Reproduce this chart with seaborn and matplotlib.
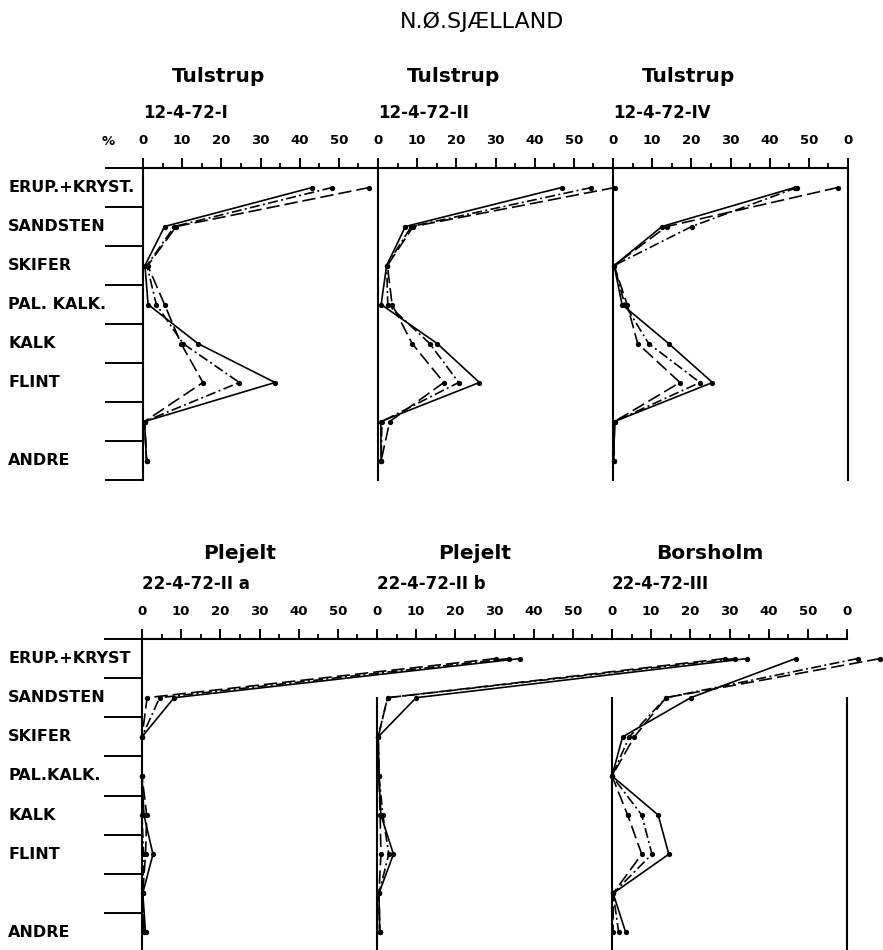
import numpy as np
import matplotlib
matplotlib.use("Agg")
import matplotlib.pyplot as plt
import matplotlib.transforms as mtransforms
import seaborn as sns

sns.set_style("white")
plt.rcParams['font.family'] = ['DejaVu Sans']
plt.rcParams['font.weight'] = 'bold'
plt.rcParams['text.color'] = 'black'
plt.rcParams['xtick.color'] = 'black'
plt.rcParams['ytick.color'] = 'black'

# --- data (percent per rock type) ---
categories_top = ["ERUP.+KRYST.", "SANDSTEN", "SKIFER", "PAL. KALK.", "KALK", "FLINT", "", "ANDRE"]
categories_bottom = ["ERUP.+KRYST", "SANDSTEN", "SKIFER", "PAL.KALK.", "KALK", "FLINT", "", "ANDRE"]

main_title = "N.Ø.SJÆLLAND"
titles_top = ["Tulstrup", "Tulstrup", "Tulstrup"]
samples_top = ["12-4-72-I", "12-4-72-II", "12-4-72-IV"]
titles_bottom = ["Plejelt", "Plejelt", "Borsholm"]
samples_bottom = ["22-4-72-II a", "22-4-72-II b", "22-4-72-III"]

# series order in each panel: solid, dash-dot, dashed
t1_solid = [43.2, 5.5, 0.5, 1.3, 14.0, 33.7, 0.4, 0.9]
t1_dashdot = [48.3, 8.0, 1.0, 3.4, 10.2, 24.6, 0.4, 0.9]
t1_dashed = [57.8, 8.5, 1.2, 5.5, 9.7, 15.3, 0.4, 0.9]

t2_solid = [46.9, 7.0, 2.2, 0.8, 15.1, 25.9, 0.7, 0.8]
t2_dashdot = [54.5, 8.5, 2.2, 2.5, 13.2, 20.6, 1.0, 0.8]
t2_dashed = [60.5, 9.0, 2.4, 3.6, 8.7, 16.8, 3.0, 0.8]

t3_solid = [46.4, 12.5, 0.3, 2.3, 14.2, 25.4, 0.4, 0.2]
t3_dashdot = [47.0, 20.1, 0.3, 3.0, 9.1, 22.2, 0.4, 0.2]
t3_dashed = [57.4, 13.7, 0.3, 3.6, 6.3, 17.1, 0.4, 0.2]

b1_solid = [96.6, 8.2, 0.0, 0.0, 0.5, 2.8, 0.2, 0.9]
b1_dashdot = [93.6, 4.5, 0.0, 0.0, 0.0, 0.4, 0.2, 0.5]
b1_dashed = [90.3, 1.3, 0.0, 0.0, 1.2, 0.9, 0.2, 0.5]

b2_solid = [94.5, 10.0, 0.3, 0.5, 1.0, 4.2, 0.5, 0.7]
b2_dashdot = [91.4, 2.7, 0.3, 0.5, 1.5, 3.0, 0.5, 0.7]
b2_dashed = [88.8, 2.7, 0.3, 0.5, 0.8, 1.0, 0.5, 0.7]

b3_solid = [46.9, 20.1, 2.7, 0.0, 11.8, 14.5, 0.3, 3.5]
b3_dashdot = [62.7, 13.8, 4.4, 0.0, 7.6, 10.2, 0.3, 1.7]
b3_dashed = [68.5, 13.8, 5.7, 0.0, 4.0, 7.6, 0.3, 0.3]

top_panels = [[t1_solid, t1_dashdot, t1_dashed],
              [t2_solid, t2_dashdot, t2_dashed],
              [t3_solid, t3_dashdot, t3_dashed]]
bottom_panels = [[b1_solid, b1_dashdot, b1_dashed],
                 [b2_solid, b2_dashdot, b2_dashed],
                 [b3_solid, b3_dashdot, b3_dashed]]

line_styles = ['-', (0, (6, 2, 1.2, 2)), (0, (8, 3))]

# --- figure layout in pixels ---
W, H = 883, 950
fig = plt.figure(figsize=(W / 100, H / 100), dpi=100)
fig.patch.set_facecolor('white')


def px_axes(left, top, w, h):
    return fig.add_axes([left / W, 1 - (top + h) / H, w / W, h / H])


def draw_row(lefts, top, height, categories, panels, titles, samples,
             title_dx, title_dy, cut_vertical):
    rows = np.arange(len(categories)) + 0.5
    axes = []
    for k, (left, series, title, sample) in enumerate(zip(lefts, panels, titles, samples)):
        ax = px_axes(left, top, 235, height)
        ax.set_facecolor('none')
        for vals, ls in zip(series, line_styles):
            sns.lineplot(x=vals, y=rows, orient='y', sort=False, estimator=None, ax=ax,
                         color='black', linestyle=ls, linewidth=1.2, marker='o',
                         markersize=3.8, markeredgewidth=0, clip_on=False, legend=False)
        ax.set_xlim(0, 60)
        ax.set_ylim(len(categories), 0)
        ax.set_xlabel('')
        ax.set_ylabel('')

        # spines
        for s in ax.spines.values():
            s.set_color('black')
            s.set_linewidth(1.5)
        ax.spines['bottom'].set_visible(False)
        ax.spines['right'].set_visible(k == len(lefts) - 1)
        if cut_vertical and k > 0:
            ax.spines['left'].set_bounds(1.5, len(categories))
            ax.spines['right'].set_bounds(1.5, len(categories))

        # percentage scale on top
        ax.xaxis.tick_top()
        ax.set_xticks(np.arange(0, 61, 10))
        ax.set_xticks(np.arange(5, 60, 10), minor=True)
        labels = ['0', '10', '20', '30', '40', '50', '0' if k == len(lefts) - 1 else '']
        ax.set_xticklabels(labels, fontweight='bold')
        ax.tick_params(axis='x', which='major', direction='out', length=7, width=1.4,
                       pad=8, labelsize=9.5)
        ax.tick_params(axis='x', which='minor', direction='out', length=3.5, width=1.3)

        # row separators only left of first panel
        if k == 0:
            ax.set_yticks(np.arange(0, len(categories) + 1))
            ax.set_yticklabels([])
            ax.tick_params(axis='y', which='major', direction='out', length=27.5, width=1.4,
                           left=True)
            tr = mtransforms.blended_transform_factory(fig.transFigure, ax.transData)
            for name, r in zip(categories, rows):
                ax.text(8 / W, r, name, transform=tr, ha='left', va='center',
                        fontsize=11.5, fontweight='bold')
        else:
            ax.set_yticks([])

        ax.text(title_dx / 235, 1 + title_dy / height, title, transform=ax.transAxes,
                ha='center', va='center', fontsize=14.5, fontweight='bold')
        ax.text(0.0, 1 + 55 / height, sample, transform=ax.transAxes,
                ha='left', va='center', fontsize=12, fontweight='bold')
        axes.append(ax)
    return axes


top_axes = draw_row([143, 378, 613], 168, 312, categories_top, top_panels,
                    titles_top, samples_top, 76, 91, cut_vertical=False)
bottom_axes = draw_row([142, 377, 612], 639, 313, categories_bottom, bottom_panels,
                       titles_bottom, samples_bottom, 98, 86, cut_vertical=True)

fig.text(108 / W, 1 - 141 / H, '%', ha='center', va='center', fontsize=9.5, fontweight='bold')
fig.text(482 / W, 1 - 22 / H, main_title, ha='center', va='center', fontsize=16,
         fontweight='normal')

fig.savefig('out.png', dpi=100, facecolor='white')
